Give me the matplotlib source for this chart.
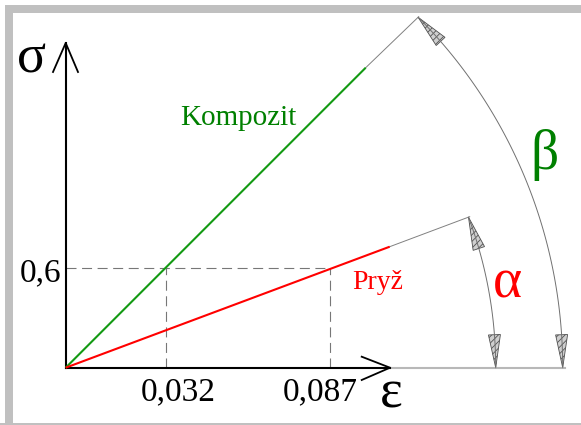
"""Schematic stress-strain diagram: Kompozit vs. Pryž with angle arcs."""
import numpy as np
import matplotlib
matplotlib.use("Agg")
import matplotlib.pyplot as plt
from matplotlib.patches import Polygon, Rectangle

# schematic units: 1 unit = 100 px, origin at the axes corner
eps_pos = [1.0, 2.64]
eps_labels = ["0,032", "0,087"]
sigma_pos = 1.0
sigma_label = "0,6"

komp_x = [0.0, 3.0]
komp_y = [0.0, 3.0]
komp_ext = [3.53, 3.51]
pryz_x = [0.0, 3.24]
pryz_y = [0.0, 1.21]
pryz_ext = [4.04, 1.51]

r_beta = 4.97
r_alpha = 4.30

SERIF = "Liberation Serif"
GREEN_LINE = "#139a13"
GREEN_TXT = "#008000"
RED = "#ff0000"
plt.rcParams["hatch.linewidth"] = 0.6

fig = plt.figure(figsize=(5.81, 4.25), dpi=100)
ax = fig.add_axes([0, 0, 1, 1])
ax.set_xlim(-0.657, 5.153)
ax.set_ylim(-0.573, 3.677)
ax.axis("off")

# frame
for x0, y0, w, h in [(5 / 581, 412 / 425, 1, 8 / 425),
                     (5 / 581, 0, 8 / 581, 420 / 425),
                     (0, 0, 1, 2 / 425)]:
    fig.patches.append(Rectangle((x0, y0), w, h, transform=fig.transFigure,
                                 color="#c0c0c0", lw=0, zorder=0))

# dashed guides
ax.plot([0, eps_pos[1]], [sigma_pos, sigma_pos], color="#777777", lw=0.8,
        dashes=(9, 5))
for x in eps_pos:
    ax.plot([x, x], [0, sigma_pos], color="#777777", lw=0.8, dashes=(9, 5))

# extensions and x-axis continuation
ax.plot([komp_x[1], komp_ext[0]], [komp_y[1], komp_ext[1]], color="#808080", lw=0.7)
ax.plot([pryz_x[1], pryz_ext[0]], [pryz_y[1], pryz_ext[1]], color="#808080", lw=0.7)
ax.plot([3.243, 4.993], [0, 0], color="#b8b8b8", lw=1.5)

# axes with open arrows
ax.plot([0, 0], [0, 3.247], color="black", lw=1.5)
ax.plot([-0.127, 0, 0.123], [2.957, 3.247, 2.957], color="black", lw=1.3)
ax.plot([0, 3.243], [0, 0], color="black", lw=1.5)
ax.plot([2.96, 3.243, 2.96], [0.11, 0, -0.123], color="black", lw=1.3)

# material lines
ax.plot(komp_x, komp_y, color=GREEN_LINE, lw=1.5, solid_capstyle="butt")
ax.plot(pryz_x, pryz_y, color=RED, lw=1.5, solid_capstyle="butt")


def arc_with_heads(r, ang_end):
    t = np.linspace(0, ang_end, 120)
    ax.plot(r * np.cos(t), r * np.sin(t), color="#707070", lw=0.7)
    head_len, half_w = 0.33, 0.06
    for tip_a, sign in [(0.0, 1), (ang_end, -1)]:
        base_a = tip_a + sign * head_len / r
        tip = np.array([r * np.cos(tip_a), r * np.sin(tip_a)])
        base = np.array([r * np.cos(base_a), r * np.sin(base_a)])
        d = (tip - base) / np.linalg.norm(tip - base)
        n = np.array([-d[1], d[0]])
        pts = [tip, base + n * half_w, base - n * half_w]
        ax.add_patch(Polygon(pts, closed=True, facecolor="#cfcfcf",
                             edgecolor="#505050", hatch="/////", lw=0.6))


arc_with_heads(r_beta, np.arctan2(komp_ext[1], komp_ext[0]))
arc_with_heads(r_alpha, np.arctan2(pryz_ext[1], pryz_ext[0]))

# texts
ax.text(1.728, 2.427, "Kompozit", color=GREEN_TXT, fontsize=21, family=SERIF,
        ha="center", va="baseline")
ax.text(3.116, 0.784, "Pryž", color=RED, fontsize=20, family=SERIF,
        ha="center", va="baseline")
ax.text(-0.252, 0.86, sigma_label, fontsize=24, family=SERIF, ha="center", va="baseline")
for x, lab in zip([1.128, 2.543], eps_labels):
    ax.text(x, -0.323, lab, fontsize=24, family=SERIF, ha="center", va="baseline")

ax.text(-0.342, 3.082, "σ", fontsize=39, family=SERIF, ha="center", va="center")
ax.text(3.253, -0.263, "ε", fontsize=39, family=SERIF, ha="center", va="center")
ax.text(4.413, 0.837, "α", fontsize=40, family=SERIF, color=RED, ha="center", va="center")
ax.text(4.783, 2.127, "β", fontsize=40, family=SERIF, color=GREEN_TXT, ha="center", va="center")

fig.savefig("out.png", dpi=100)
